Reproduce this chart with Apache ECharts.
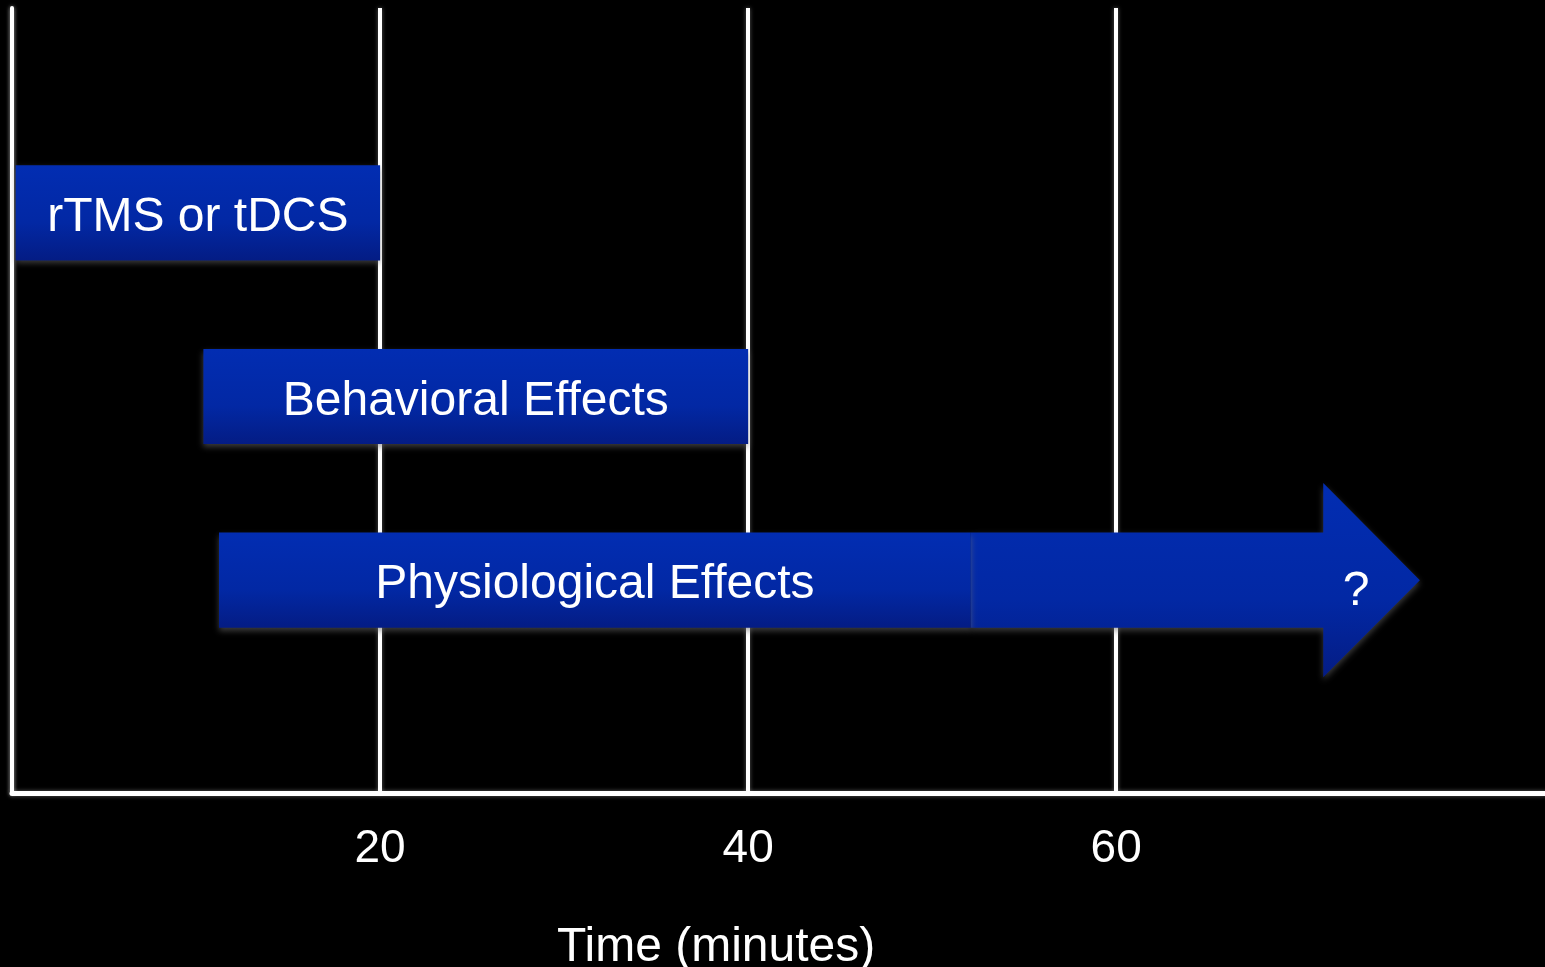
<!DOCTYPE html>
<html>
<head>
<meta charset="utf-8">
<title>Time course</title>
<script src="https://cdn.jsdelivr.net/npm/echarts@6/dist/echarts.min.js"></script>
<style>
  html, body { margin: 0; padding: 0; background: #000; }
  #chart { width: 1545px; height: 967px; }
</style>
</head>
<body>
<div id="chart"></div>
<script>
// lanes, top to bottom
const tasks = ["rTMS or tDCS", "Behavioral Effects", "Physiological Effects"]
const taskStart = [0.2, 10.4, 11.25] // minutes
const taskEnd = [20, 40, 52.1]

// the open-ended part of the physiological effects
const unknownRow = 2
const unknownStart = 52.1
const unknownBodyEnd = 71.25
const unknownTip = 76.5
const unknownLabel = "?"

const tickValues = [0, 20, 40, 60]
const tickLabels = [20, 40, 60]
const xMax = 83.3

const FONT = "Liberation Sans, Arial, sans-serif"

const chart = echarts.init(document.getElementById("chart"))

function barFill() {
  return new echarts.graphic.LinearGradient(0, 0, 0, 1, [
    { offset: 0, color: "#022db2" },
    { offset: 0.6, color: "#0228a4" },
    { offset: 1, color: "#041c84" },
  ])
}

const shadow = {
  shadowColor: "rgba(110, 110, 110, 0.55)",
  shadowBlur: 6,
  shadowOffsetY: 3,
}

function renderBar(params, api) {
  const row = api.value(0)
  const p0 = api.coord([api.value(1), row])
  const p1 = api.coord([api.value(2), row])
  const h = api.size([0, 1])[1] * 0.518
  return {
    type: "group",
    children: [
      {
        type: "rect",
        shape: { x: p0[0], y: p0[1] - h / 2, width: p1[0] - p0[0], height: h },
        style: Object.assign({ fill: barFill() }, shadow),
      },
      {
        type: "text",
        x: (p0[0] + p1[0]) / 2,
        y: p0[1] + 5,
        style: {
          text: tasks[row],
          fill: "#fff",
          font: "48px " + FONT,
          align: "center",
          verticalAlign: "middle",
        },
      },
    ],
  }
}

function renderArrow(params, api) {
  const row = api.value(0)
  const a = api.coord([api.value(1), row])
  const b = api.coord([api.value(2), row])
  const t = api.coord([api.value(3), row])
  const h = api.size([0, 1])[1] * 0.518
  const head = h * 1.02
  const cy = a[1]
  const pts = [
    [a[0], cy - h / 2],
    [b[0], cy - h / 2],
    [b[0], cy - head],
    [t[0], cy],
    [b[0], cy + head],
    [b[0], cy + h / 2],
    [a[0], cy + h / 2],
  ]
  return {
    type: "group",
    children: [
      {
        type: "polygon",
        shape: { points: pts },
        style: Object.assign({ fill: barFill() }, shadow),
      },
      {
        type: "text",
        x: b[0] + (t[0] - b[0]) * 0.34,
        y: cy + 12,
        style: {
          text: unknownLabel,
          fill: "#fff",
          font: "48px " + FONT,
          align: "center",
          verticalAlign: "middle",
        },
      },
    ],
  }
}

const lineStyle = {
  color: "#fff",
  width: 4,
  shadowColor: "rgba(255, 255, 255, 0.35)",
  shadowBlur: 4,
}

const option = {
  backgroundColor: "#000",
  animation: false,
  title: {
    text: "Time (minutes)",
    left: 552,
    top: 919,
    textStyle: { color: "#fff", fontSize: 48, fontWeight: "normal", fontFamily: FONT },
  },
  grid: [
    { left: 12, right: 0, top: 8, bottom: 174 },
    { left: 12, right: 0, top: 121, height: 551 },
  ],
  xAxis: [
    {
      type: "value",
      gridIndex: 0,
      min: 0,
      max: xMax,
      axisLine: { show: true, lineStyle: Object.assign({}, lineStyle, { width: 5 }) },
      axisTick: { show: false, customValues: tickValues },
      axisLabel: {
        customValues: tickLabels,
        color: "#fff",
        fontSize: 46,
        fontFamily: FONT,
        margin: 33,
      },
      splitLine: { show: true, lineStyle: lineStyle },
    },
    {
      type: "value",
      gridIndex: 1,
      min: 0,
      max: xMax,
      show: false,
    },
  ],
  yAxis: [
    {
      type: "value",
      gridIndex: 0,
      min: 0,
      max: 1,
      axisLine: { show: true, lineStyle: lineStyle },
      axisTick: { show: false },
      axisLabel: { show: false },
      splitLine: { show: false },
    },
    {
      type: "category",
      gridIndex: 1,
      data: tasks,
      inverse: true,
      show: false,
    },
  ],
  series: [
    {
      type: "custom",
      name: "tasks",
      xAxisIndex: 1,
      yAxisIndex: 1,
      renderItem: renderBar,
      encode: { x: [1, 2], y: 0 },
      data: tasks.map((name, i) => [i, taskStart[i], taskEnd[i]]),
      z: 3,
    },
    {
      type: "custom",
      name: "unknown",
      xAxisIndex: 1,
      yAxisIndex: 1,
      renderItem: renderArrow,
      encode: { x: [1, 2, 3], y: 0 },
      data: [[unknownRow, unknownStart, unknownBodyEnd, unknownTip]],
      z: 2,
    },
  ],
}

chart.setOption(option)
</script>
</body>
</html>
